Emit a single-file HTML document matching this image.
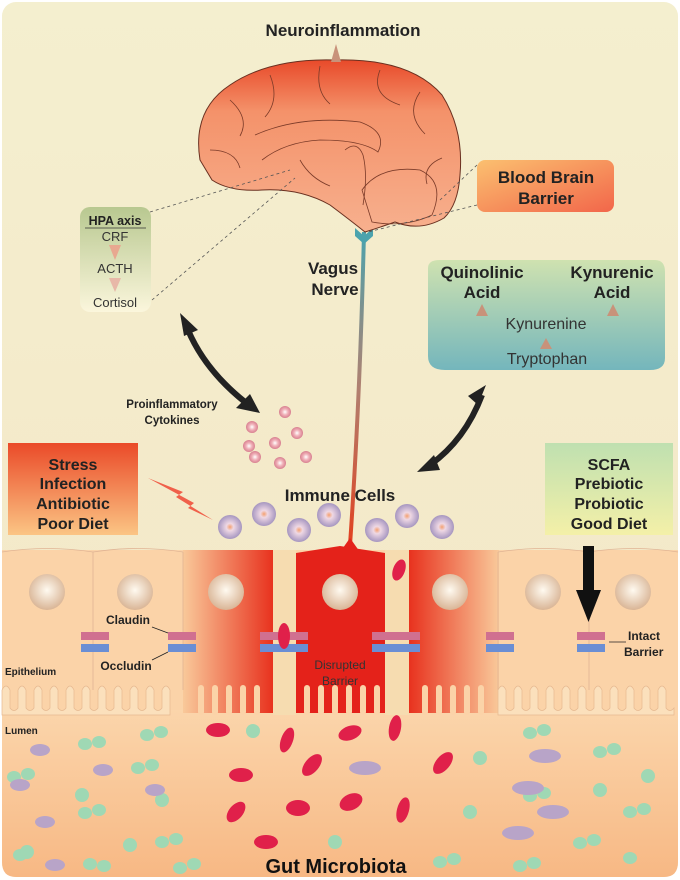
<!DOCTYPE html>
<html><head><meta charset="utf-8"><style>
html,body{margin:0;padding:0;background:#fff}
svg{display:block}
text{font-family:"Liberation Sans",sans-serif}
</style></head><body>
<svg width="680" height="880" viewBox="0 0 680 880" xmlns="http://www.w3.org/2000/svg">
<defs>
<linearGradient id="bg" x1="0" y1="0" x2="0" y2="1"><stop offset="0" stop-color="#f4efcf"/><stop offset="1" stop-color="#f3e6c6"/></linearGradient>
<linearGradient id="lum" x1="0" y1="0" x2="0" y2="1"><stop offset="0" stop-color="#fbd6ac"/><stop offset="1" stop-color="#f7b884"/></linearGradient>
<linearGradient id="hpa" x1="0" y1="0" x2="0" y2="1"><stop offset="0" stop-color="#b8c890"/><stop offset="1" stop-color="#fbf6dc"/></linearGradient>
<linearGradient id="bbb" x1="0" y1="0" x2="1" y2="1"><stop offset="0" stop-color="#fbc070"/><stop offset="1" stop-color="#f2664a"/></linearGradient>
<linearGradient id="kyn" x1="0" y1="0" x2="0" y2="1"><stop offset="0" stop-color="#cfe2b0"/><stop offset="1" stop-color="#74b6bc"/></linearGradient>
<linearGradient id="str" x1="0" y1="0" x2="0" y2="1"><stop offset="0" stop-color="#ea4a28"/><stop offset="1" stop-color="#fbc584"/></linearGradient>
<linearGradient id="scfa" x1="0" y1="0" x2="0" y2="1"><stop offset="0" stop-color="#bfe0b0"/><stop offset="1" stop-color="#f4f0a8"/></linearGradient>
<linearGradient id="nerve" x1="0" y1="0" x2="0" y2="1"><stop offset="0" stop-color="#4ba3ad"/><stop offset="0.5" stop-color="#b08070"/><stop offset="1" stop-color="#e2401e"/></linearGradient>
<linearGradient id="brain" x1="0" y1="0" x2="0" y2="1"><stop offset="0" stop-color="#e84a2a"/><stop offset="0.3" stop-color="#f4926a"/><stop offset="1" stop-color="#f7b08e"/></linearGradient>
<linearGradient id="redL" x1="0" y1="0" x2="1" y2="0"><stop offset="0" stop-color="#f9c99a"/><stop offset="1" stop-color="#e8321e"/></linearGradient>
<linearGradient id="redR" x1="1" y1="0" x2="0" y2="0"><stop offset="0" stop-color="#f9c99a"/><stop offset="1" stop-color="#e8321e"/></linearGradient>
<radialGradient id="nuc" cx="0.5" cy="0.45" r="0.55"><stop offset="0" stop-color="#fffaf0"/><stop offset="1" stop-color="#d9b596"/></radialGradient>
<radialGradient id="imm" cx="0.5" cy="0.5" r="0.5"><stop offset="0" stop-color="#f4a070"/><stop offset="0.3" stop-color="#efd8e4"/><stop offset="1" stop-color="#a696c0"/></radialGradient>
<radialGradient id="cyt" cx="0.5" cy="0.5" r="0.5"><stop offset="0" stop-color="#fff"/><stop offset="0.5" stop-color="#f0b0b8"/><stop offset="1" stop-color="#d88090"/></radialGradient>
</defs>
<rect x="0" y="0" width="680" height="880" fill="#fff"/>
<rect x="2" y="2" width="676" height="875" rx="14" fill="url(#bg)"/>
<!-- lumen -->
<path d="M2 705 H678 V862 Q678 877 664 877 H16 Q2 877 2 862 Z" fill="url(#lum)"/>
<!-- cells -->
<rect x="2" y="550" width="676" height="160" fill="#fbd3a8"/>
<rect x="183" y="550" width="90" height="163" fill="url(#redL)"/>
<rect x="409" y="550" width="90" height="163" fill="url(#redR)"/>
<path d="M296 553 L340 546 L385 553 V713 H296 Z" fill="#e4221a"/>
<g stroke="#e0b494" stroke-width="0.8" fill="none">
<line x1="93" y1="552" x2="93" y2="690"/><line x1="183" y1="552" x2="183" y2="690"/><line x1="498" y1="552" x2="498" y2="690"/><line x1="589" y1="552" x2="589" y2="690"/>
<path d="M2 552 Q47 545 93 552 Q138 545 183 552 M498 552 Q543 545 589 552 Q633 545 678 552"/>
</g>
<!-- microvilli -->
<g fill="#fbe0bc" stroke="#e6b890" stroke-width="0.7">
<path d="M2 715 V690 q4 -8 8 0 v18 q4 5 8 0 v-18 q4 -8 8 0 v18 q4 5 8 0 v-18 q4 -8 8 0 v18 q4 5 8 0 v-18 q4 -8 8 0 v18 q4 5 8 0 v-18 q4 -8 8 0 v18 q4 5 8 0 v-18 q4 -8 8 0 v18 q4 5 8 0 v-18 q4 -8 8 0 v18 q4 5 8 0 v-18 q4 -8 8 0 v18 q4 5 8 0 v-18 q4 -8 8 0 v18 q4 5 8 0 v-18 q4 -8 8 0 v18 q4 5 8 0 v-18 q4 -8 8 0 V715 Z"/>
<path d="M498 715 V690 q4 -8 8 0 v18 q4 5 8 0 v-18 q4 -8 8 0 v18 q4 5 8 0 v-18 q4 -8 8 0 v18 q4 5 8 0 v-18 q4 -8 8 0 v18 q4 5 8 0 v-18 q4 -8 8 0 v18 q4 5 8 0 v-18 q4 -8 8 0 v18 q4 5 8 0 v-18 q4 -8 8 0 v18 q4 5 8 0 v-18 q4 -8 8 0 v18 q4 5 8 0 v-18 q4 -8 8 0 v18 q4 5 8 0 v-18 q4 -8 8 0 v18 q4 5 8 0 v-18 q4 -8 8 0 v18 q4 5 8 0 V715 Z"/>
</g>
<g fill="#fbd3a8">
<rect x="198" y="685" width="6" height="30" rx="3"/><rect x="212" y="685" width="6" height="30" rx="3"/><rect x="226" y="685" width="6" height="30" rx="3"/><rect x="240" y="685" width="6" height="30" rx="3"/><rect x="254" y="685" width="6" height="30" rx="3"/>
<rect x="422" y="685" width="6" height="30" rx="3"/><rect x="436" y="685" width="6" height="30" rx="3"/><rect x="450" y="685" width="6" height="30" rx="3"/><rect x="464" y="685" width="6" height="30" rx="3"/><rect x="478" y="685" width="6" height="30" rx="3"/>
<rect x="304" y="685" width="6" height="30" rx="3"/><rect x="318" y="685" width="6" height="30" rx="3"/><rect x="332" y="685" width="6" height="30" rx="3"/><rect x="346" y="685" width="6" height="30" rx="3"/><rect x="360" y="685" width="6" height="30" rx="3"/><rect x="374" y="685" width="6" height="30" rx="3"/>
</g>
<rect x="273" y="550" width="23" height="165" fill="#f6dcb0"/>
<rect x="385" y="550" width="24" height="165" fill="#f6dcb0"/>
<!-- nuclei -->
<g fill="url(#nuc)">
<circle cx="47" cy="592" r="18"/><circle cx="135" cy="592" r="18"/><circle cx="226" cy="592" r="18"/><circle cx="340" cy="592" r="18"/><circle cx="450" cy="592" r="18"/><circle cx="543" cy="592" r="18"/><circle cx="633" cy="592" r="18"/>
</g>
<!-- junctions -->
<g>
<rect x="81" y="632" width="28" height="8" fill="#d07090"/><rect x="81" y="644" width="28" height="8" fill="#6a8ed4"/>
<rect x="168" y="632" width="28" height="8" fill="#d07090"/><rect x="168" y="644" width="28" height="8" fill="#6a8ed4"/>
<rect x="260" y="632" width="48" height="8" fill="#d07090"/><rect x="260" y="644" width="48" height="8" fill="#6a8ed4"/>
<rect x="372" y="632" width="48" height="8" fill="#d07090"/><rect x="372" y="644" width="48" height="8" fill="#6a8ed4"/>
<rect x="486" y="632" width="28" height="8" fill="#d07090"/><rect x="486" y="644" width="28" height="8" fill="#6a8ed4"/>
<rect x="577" y="632" width="28" height="8" fill="#d07090"/><rect x="577" y="644" width="28" height="8" fill="#6a8ed4"/>
</g>
<ellipse cx="284" cy="636" rx="6" ry="13" fill="#e0204a"/>
<ellipse cx="399" cy="570" rx="6" ry="11" fill="#e0204a" transform="rotate(20 399 570)"/>
<!-- nerve -->
<path d="M364 232 Q360 400 350 545" stroke="url(#nerve)" stroke-width="4" fill="none"/>
<path d="M338 555 L350 538 L362 555 Z" fill="#e4221a"/>
<path d="M355 228 L364 236 L373 228 L373 236 L364 244 L355 236 Z" fill="#4ba3ad"/>
<!-- brain -->
<path d="M200 160 Q192 110 230 85 Q270 58 335 60 Q410 58 442 95 Q464 130 460 175 Q458 205 444 218 Q420 232 395 222 Q378 228 365 232 Q350 220 330 205 Q300 188 262 190 Q230 192 212 180 Z" fill="url(#brain)" stroke="#6a3020" stroke-width="1"/>
<g stroke="#7a3a28" stroke-width="0.8" fill="none">
<path d="M255 135 Q300 115 360 122 Q388 132 378 152 Q362 140 320 140 Q285 142 262 160"/>
<path d="M362 190 Q380 165 420 170 Q446 182 432 215 Q405 228 372 222 Z"/>
<path d="M230 100 q20 18 10 36 M270 75 q10 25 -5 42 M320 66 q-5 25 10 38 M380 70 q-10 25 20 35 M420 92 q-15 22 5 42 M210 150 q25 0 30 18 M442 158 q-20 8 -15 26 M300 160 q10 18 30 26"/>
<path d="M345 150 q12 -10 18 5 q5 20 0 50"/>
</g>
<path d="M331 62 L336 44 L341 62 Z" fill="#c8927a"/>
<text x="343" y="36" font-size="17" font-weight="bold" text-anchor="middle" fill="#222">Neuroinflammation</text>
<!-- dashed lines -->
<g stroke="#555" stroke-width="0.8" stroke-dasharray="3,3" fill="none">
<line x1="150" y1="212" x2="290" y2="170"/><line x1="152" y1="300" x2="295" y2="178"/>
<line x1="477" y1="165" x2="440" y2="200"/><line x1="477" y1="205" x2="368" y2="232"/>
</g>
<!-- HPA box -->
<rect x="80" y="207" width="71" height="105" rx="10" fill="url(#hpa)"/>
<text x="115" y="225" font-size="12.5" font-weight="bold" text-anchor="middle" fill="#222">HPA axis</text>
<line x1="85" y1="228" x2="146" y2="228" stroke="#333" stroke-width="0.8"/>
<text x="115" y="241" font-size="13" text-anchor="middle" fill="#333">CRF</text>
<path d="M109 245 L121 245 L115 260 Z" fill="#e8a890"/>
<text x="115" y="273" font-size="13" text-anchor="middle" fill="#333">ACTH</text>
<path d="M109 278 L121 278 L115 292 Z" fill="#e8b8a8"/>
<text x="115" y="307" font-size="13" text-anchor="middle" fill="#333">Cortisol</text>
<!-- BBB -->
<rect x="477" y="160" width="137" height="52" rx="8" fill="url(#bbb)"/>
<text x="546" y="183" font-size="17" font-weight="bold" text-anchor="middle" fill="#222">Blood Brain</text>
<text x="546" y="204" font-size="17" font-weight="bold" text-anchor="middle" fill="#222">Barrier</text>
<!-- Vagus -->
<text x="333" y="274" font-size="17" font-weight="bold" text-anchor="middle" fill="#222">Vagus</text>
<text x="335" y="295" font-size="17" font-weight="bold" text-anchor="middle" fill="#222">Nerve</text>
<!-- Kynurenine box -->
<path d="M428 268 Q428 260 440 260 H655 Q665 260 665 272 V358 Q665 370 650 370 H445 Q428 370 428 356 Z" fill="url(#kyn)"/>
<text x="482" y="278" font-size="17" font-weight="bold" text-anchor="middle" fill="#222">Quinolinic</text>
<text x="482" y="298" font-size="17" font-weight="bold" text-anchor="middle" fill="#222">Acid</text>
<text x="612" y="278" font-size="17" font-weight="bold" text-anchor="middle" fill="#222">Kynurenic</text>
<text x="612" y="298" font-size="17" font-weight="bold" text-anchor="middle" fill="#222">Acid</text>
<path d="M476 316 L482 304 L488 316 Z" fill="#c8927a"/><path d="M607 316 L613 304 L619 316 Z" fill="#c8927a"/>
<text x="546" y="329" font-size="16" text-anchor="middle" fill="#333">Kynurenine</text>
<path d="M540 349 L546 338 L552 349 Z" fill="#c8927a"/>
<text x="547" y="364" font-size="16" text-anchor="middle" fill="#333">Tryptophan</text>
<!-- black arrows -->
<path d="M188 330 Q205 370 245 402" stroke="#222" stroke-width="6" fill="none"/>
<path d="M180 313 L198 330 L184 336 Z" fill="#222"/>
<path d="M236 408 L260 413 L250 394 Z" fill="#222"/>
<path d="M482 395 Q465 440 430 465" stroke="#222" stroke-width="6" fill="none"/>
<path d="M486 385 L478 405 L468 396 Z" fill="#222"/>
<path d="M417 472 L434 455 L440 470 Z" fill="#222"/>
<text x="172" y="408" font-size="11.5" font-weight="bold" text-anchor="middle" fill="#222">Proinflammatory</text>
<text x="172" y="424" font-size="11.5" font-weight="bold" text-anchor="middle" fill="#222">Cytokines</text>
<!-- cytokines -->
<g fill="url(#cyt)">
<circle cx="285" cy="412" r="6"/><circle cx="252" cy="427" r="6"/><circle cx="297" cy="433" r="6"/><circle cx="275" cy="443" r="6"/><circle cx="249" cy="446" r="6"/><circle cx="306" cy="457" r="6"/><circle cx="255" cy="457" r="6"/><circle cx="280" cy="463" r="6"/>
</g>
<!-- Stress box -->
<rect x="8" y="443" width="130" height="92" fill="url(#str)"/>
<text x="73" y="470" font-size="16" font-weight="bold" text-anchor="middle" fill="#222">Stress</text>
<text x="73" y="489" font-size="16" font-weight="bold" text-anchor="middle" fill="#222">Infection</text>
<text x="73" y="509" font-size="16" font-weight="bold" text-anchor="middle" fill="#222">Antibiotic</text>
<text x="73" y="529" font-size="16" font-weight="bold" text-anchor="middle" fill="#222">Poor Diet</text>
<!-- SCFA -->
<rect x="545" y="443" width="128" height="92" fill="url(#scfa)"/>
<text x="609" y="470" font-size="16" font-weight="bold" text-anchor="middle" fill="#222">SCFA</text>
<text x="609" y="489" font-size="16" font-weight="bold" text-anchor="middle" fill="#222">Prebiotic</text>
<text x="609" y="509" font-size="16" font-weight="bold" text-anchor="middle" fill="#222">Probiotic</text>
<text x="609" y="529" font-size="16" font-weight="bold" text-anchor="middle" fill="#222">Good Diet</text>
<!-- big arrow -->
<rect x="583" y="546" width="11" height="46" fill="#111"/>
<path d="M576 590 L601 590 L588.5 622 Z" fill="#111"/>
<!-- lightning -->
<path d="M148 478 L183 492 L176 497 L213 520 L188 508 L194 503 Z" fill="#f0604a"/>
<text x="340" y="501" font-size="17" font-weight="bold" text-anchor="middle" fill="#222">Immune  Cells</text>
<!-- immune cells -->
<g fill="url(#imm)">
<circle cx="230" cy="527" r="12"/><circle cx="264" cy="514" r="12"/><circle cx="299" cy="530" r="12"/><circle cx="329" cy="515" r="12"/><circle cx="377" cy="530" r="12"/><circle cx="407" cy="516" r="12"/><circle cx="442" cy="527" r="12"/>
</g>
<!-- labels -->
<text x="128" y="624" font-size="12" font-weight="bold" text-anchor="middle" fill="#222">Claudin</text>
<line x1="152" y1="627" x2="168" y2="633" stroke="#222" stroke-width="0.8"/>
<text x="126" y="670" font-size="12" font-weight="bold" text-anchor="middle" fill="#222">Occludin</text>
<line x1="152" y1="660" x2="168" y2="652" stroke="#222" stroke-width="0.8"/>
<text x="5" y="675" font-size="10" font-weight="bold" fill="#222">Epithelium</text>
<text x="340" y="669" font-size="12" text-anchor="middle" fill="#333">Disrupted</text>
<text x="340" y="685" font-size="12" text-anchor="middle" fill="#333">Barrier</text>
<text x="628" y="640" font-size="12" font-weight="bold" fill="#222">Intact</text>
<text x="624" y="656" font-size="12" font-weight="bold" fill="#222">Barrier</text>
<line x1="609" y1="642" x2="626" y2="642" stroke="#222" stroke-width="0.8"/>
<text x="5" y="734" font-size="10" font-weight="bold" fill="#222">Lumen</text>
<!-- microbes -->
<g fill="#9fd8b4">
<ellipse cx="85" cy="744" rx="7" ry="6"/><ellipse cx="99" cy="742" rx="7" ry="6"/><ellipse cx="147" cy="735" rx="7" ry="6"/><ellipse cx="161" cy="732" rx="7" ry="6"/>
<ellipse cx="138" cy="768" rx="7" ry="6"/><ellipse cx="152" cy="765" rx="7" ry="6"/><ellipse cx="14" cy="777" rx="7" ry="6"/><ellipse cx="28" cy="774" rx="7" ry="6"/>
<ellipse cx="85" cy="813" rx="7" ry="6"/><ellipse cx="99" cy="810" rx="7" ry="6"/><ellipse cx="162" cy="842" rx="7" ry="6"/><ellipse cx="176" cy="839" rx="7" ry="6"/>
<ellipse cx="90" cy="864" rx="7" ry="6"/><ellipse cx="104" cy="866" rx="7" ry="6"/><ellipse cx="20" cy="855" rx="7" ry="6"/><ellipse cx="180" cy="868" rx="7" ry="6"/><ellipse cx="194" cy="864" rx="7" ry="6"/>
<ellipse cx="530" cy="733" rx="7" ry="6"/><ellipse cx="544" cy="730" rx="7" ry="6"/><ellipse cx="600" cy="752" rx="7" ry="6"/><ellipse cx="614" cy="749" rx="7" ry="6"/>
<ellipse cx="530" cy="796" rx="7" ry="6"/><ellipse cx="544" cy="793" rx="7" ry="6"/><ellipse cx="630" cy="812" rx="7" ry="6"/><ellipse cx="644" cy="809" rx="7" ry="6"/>
<ellipse cx="580" cy="843" rx="7" ry="6"/><ellipse cx="594" cy="840" rx="7" ry="6"/><ellipse cx="440" cy="862" rx="7" ry="6"/><ellipse cx="454" cy="859" rx="7" ry="6"/><ellipse cx="520" cy="866" rx="7" ry="6"/><ellipse cx="534" cy="863" rx="7" ry="6"/><ellipse cx="630" cy="858" rx="7" ry="6"/>
<circle cx="253" cy="731" r="7"/><circle cx="480" cy="758" r="7"/><circle cx="82" cy="795" r="7"/><circle cx="162" cy="800" r="7"/><circle cx="130" cy="845" r="7"/><circle cx="335" cy="842" r="7"/><circle cx="470" cy="812" r="7"/><circle cx="600" cy="790" r="7"/><circle cx="648" cy="776" r="7"/><circle cx="27" cy="852" r="7"/>
</g>
<g fill="#b8a4c8">
<ellipse cx="40" cy="750" rx="10" ry="6"/><ellipse cx="103" cy="770" rx="10" ry="6"/><ellipse cx="155" cy="790" rx="10" ry="6"/><ellipse cx="45" cy="822" rx="10" ry="6"/><ellipse cx="20" cy="785" rx="10" ry="6"/><ellipse cx="55" cy="865" rx="10" ry="6"/><ellipse cx="365" cy="768" rx="16" ry="7"/><ellipse cx="545" cy="756" rx="16" ry="7"/><ellipse cx="528" cy="788" rx="16" ry="7"/><ellipse cx="553" cy="812" rx="16" ry="7"/><ellipse cx="518" cy="833" rx="16" ry="7"/>
</g>
<g fill="#e0204a">
<ellipse cx="218" cy="730" rx="12" ry="7"/><ellipse cx="287" cy="740" rx="6" ry="13" transform="rotate(20 287 740)"/><ellipse cx="350" cy="733" rx="12" ry="7" transform="rotate(-20 350 733)"/><ellipse cx="395" cy="728" rx="6" ry="13" transform="rotate(10 395 728)"/><ellipse cx="241" cy="775" rx="12" ry="7"/><ellipse cx="312" cy="765" rx="7" ry="13" transform="rotate(40 312 765)"/><ellipse cx="443" cy="763" rx="7" ry="13" transform="rotate(40 443 763)"/><ellipse cx="236" cy="812" rx="7" ry="12" transform="rotate(40 236 812)"/><ellipse cx="298" cy="808" rx="12" ry="8"/><ellipse cx="351" cy="802" rx="12" ry="8" transform="rotate(-25 351 802)"/><ellipse cx="403" cy="810" rx="6" ry="13" transform="rotate(15 403 810)"/><ellipse cx="266" cy="842" rx="12" ry="7"/>
</g>
<text x="336" y="873" font-size="20" font-weight="bold" text-anchor="middle" fill="#111">Gut Microbiota</text>
</svg>
</body></html>
